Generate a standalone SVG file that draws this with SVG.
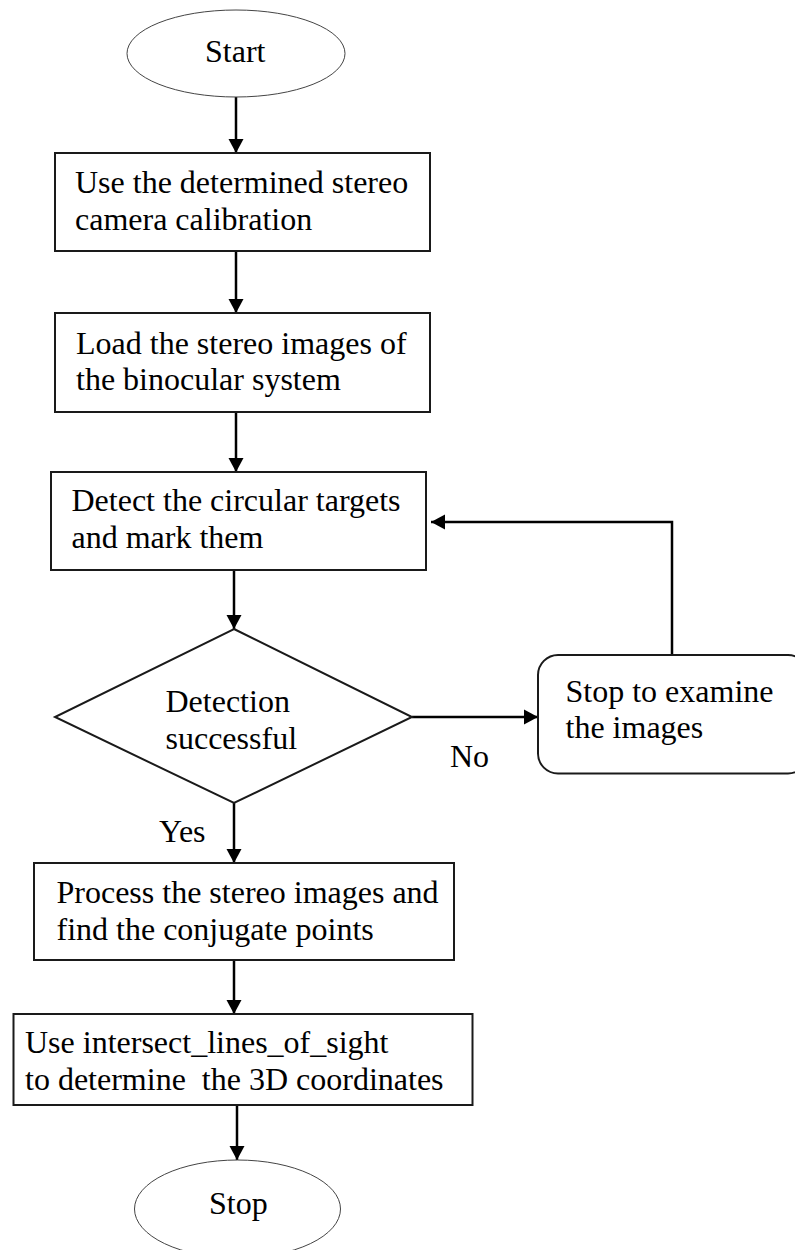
<svg xmlns="http://www.w3.org/2000/svg" width="795" height="1250" viewBox="0 0 795 1250">
  <style>
    .box { fill: #fff; stroke: #1a1a1a; stroke-width: 2; }
    .term { fill: #fff; stroke: #444; stroke-width: 1; }
    .lbl { font-family: "Liberation Serif", "Times New Roman", serif; font-size: 32px; fill: #000; }
    .edge { fill: none; stroke: #000; stroke-width: 2.5; }
  </style>
  <defs>
    <marker id="arrow" markerUnits="userSpaceOnUse" markerWidth="16" markerHeight="16" refX="14" refY="8" orient="auto">
      <path d="M0,0.5 L14,8 L0,15.5 Z" fill="#000"/>
    </marker>
  </defs>

  <rect width="795" height="1250" fill="#fff"/>

  <!-- connectors -->
  <g id="connectors">
    <line class="edge" x1="236" y1="97" x2="236" y2="153" marker-end="url(#arrow)"/>
    <line class="edge" x1="236" y1="252" x2="236" y2="313" marker-end="url(#arrow)"/>
    <line class="edge" x1="236" y1="412" x2="236" y2="472" marker-end="url(#arrow)"/>
    <line class="edge" x1="234" y1="570" x2="234" y2="629" marker-end="url(#arrow)"/>
    <line class="edge" x1="412" y1="717" x2="538" y2="717" marker-end="url(#arrow)"/>
    <polyline class="edge" points="672,655 672,522 431,522" marker-end="url(#arrow)"/>
    <line class="edge" x1="234" y1="803" x2="234" y2="863" marker-end="url(#arrow)"/>
    <line class="edge" x1="234" y1="960" x2="234" y2="1014" marker-end="url(#arrow)"/>
    <line class="edge" x1="237" y1="1105" x2="237" y2="1160" marker-end="url(#arrow)"/>
    <text class="lbl" x="450" y="767">No</text>
    <text class="lbl" x="159" y="842">Yes</text>
  </g>

  <!-- nodes -->
  <g id="start">
    <ellipse class="term" cx="236" cy="53.5" rx="109" ry="43.5"/>
    <text class="lbl" x="205" y="62">Start</text>
  </g>

  <g id="calibration">
    <rect class="box" x="55" y="153" width="375" height="98"/>
    <text class="lbl" x="75" y="193">Use the determined stereo</text>
    <text class="lbl" x="75" y="229.5">camera calibration</text>
  </g>

  <g id="load-images">
    <rect class="box" x="55" y="313" width="375" height="99"/>
    <text class="lbl" x="76" y="353.5">Load the stereo images of</text>
    <text class="lbl" x="76" y="390">the binocular system</text>
  </g>

  <g id="detect-targets">
    <rect class="box" x="51" y="472" width="375" height="98"/>
    <text class="lbl" x="71.5" y="510.5">Detect the circular targets</text>
    <text class="lbl" x="71.5" y="548">and mark them</text>
  </g>

  <g id="detection-check">
    <polygon class="box" points="234,629 412,717 234,803 55,717"/>
    <text class="lbl" x="165.5" y="712">Detection</text>
    <text class="lbl" x="165.5" y="748.5">successful</text>
  </g>

  <g id="examine">
    <rect class="box" x="538" y="655" width="270" height="118.5" rx="20" ry="20"/>
    <text class="lbl" x="565.5" y="702">Stop to examine</text>
    <text class="lbl" x="565.5" y="738">the images</text>
  </g>

  <g id="process-images">
    <rect class="box" x="34" y="863" width="420" height="97"/>
    <text class="lbl" x="56.5" y="903">Process the stereo images and</text>
    <text class="lbl" x="56.5" y="940">find the conjugate points</text>
  </g>

  <g id="intersect">
    <rect class="box" x="13.5" y="1014" width="459" height="91"/>
    <text class="lbl" x="25" y="1052.5" xml:space="preserve">Use intersect_lines_of_sight</text>
    <text class="lbl" x="25" y="1090" xml:space="preserve">to determine  the 3D coordinates</text>
  </g>

  <g id="stop">
    <ellipse class="term" cx="237.5" cy="1209" rx="103" ry="49"/>
    <text class="lbl" x="209" y="1214">Stop</text>
  </g>
</svg>
